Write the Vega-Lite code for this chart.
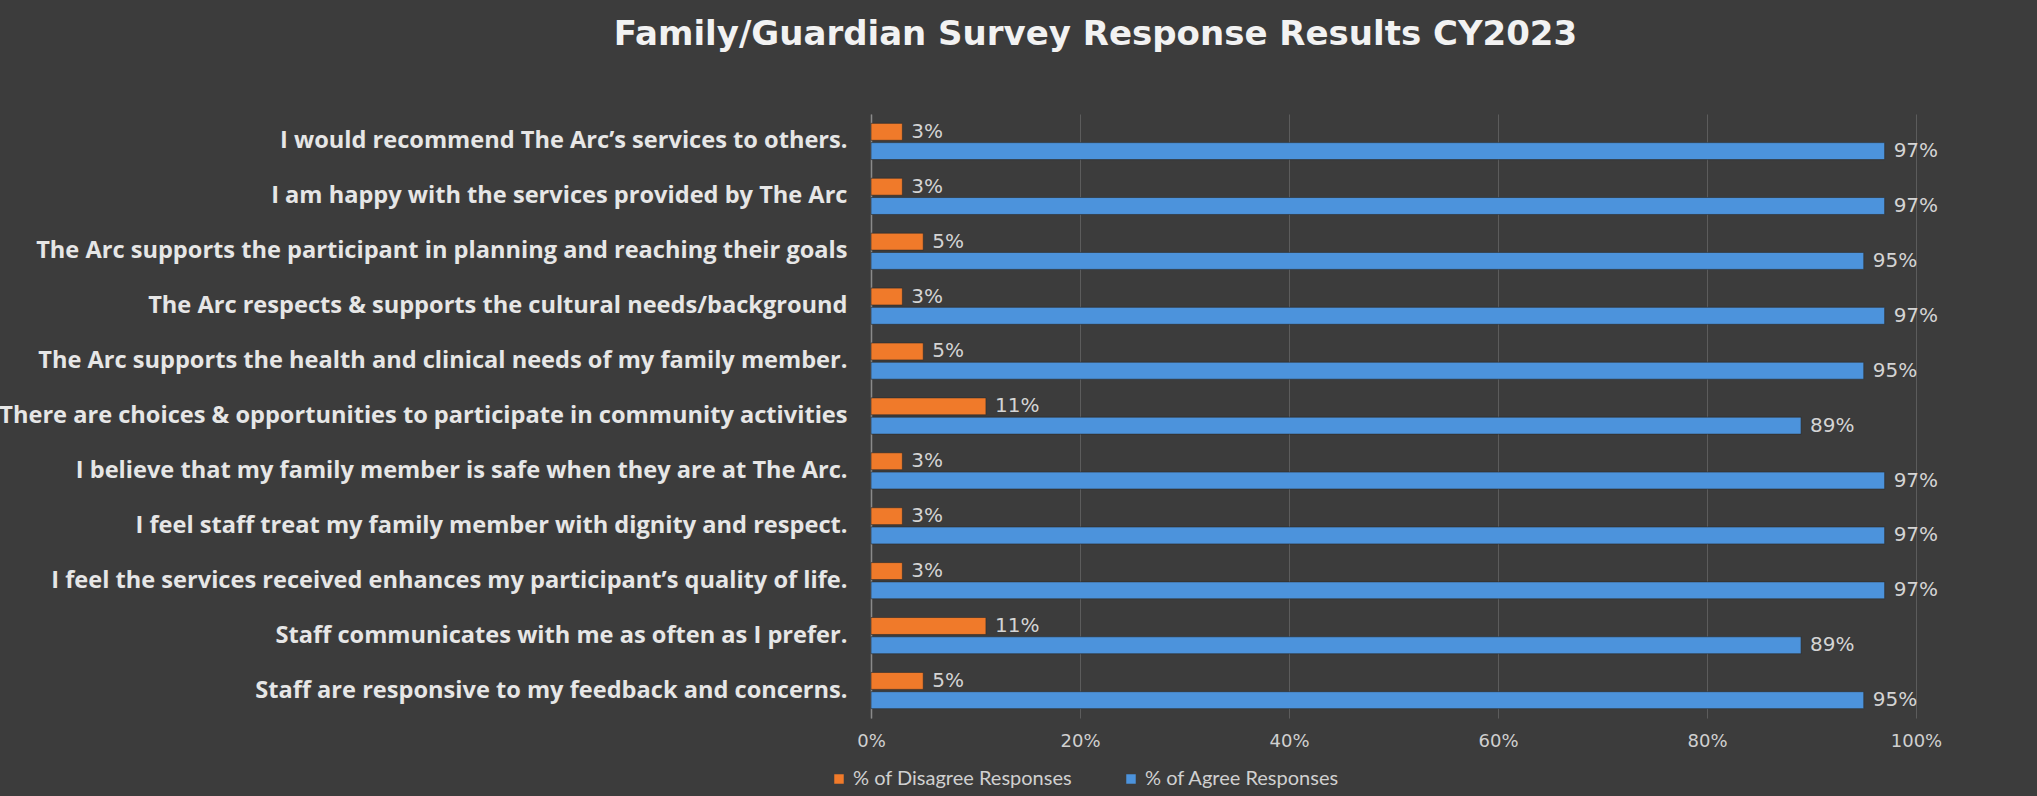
{
  "$schema": "https://vega.github.io/schema/vega-lite/v6.json",
  "width": 1045,
  "height": 604,
  "autosize": {"type": "none"},
  "padding": {"left": 871, "top": 114, "right": 121, "bottom": 78},
  "background": "#3c3c3c",
  "title": {
    "text": "Family/Guardian Survey Response Results CY2023",
    "anchor": "middle",
    "dx": -298,
    "offset": 62,
    "font": "DejaVu Sans",
    "fontSize": 34,
    "fontWeight": "bold",
    "color": "#f2f2f2"
  },
  "config": {
    "view": {"stroke": null},
    "font": "Lato"
  },
  "data": {
    "values": [
      {"q": "I would recommend The Arc’s services to others.", "series": "% of Disagree Responses", "value": 0.03},
      {"q": "I would recommend The Arc’s services to others.", "series": "% of Agree Responses", "value": 0.97},
      {"q": "I am happy with the services provided by The Arc", "series": "% of Disagree Responses", "value": 0.03},
      {"q": "I am happy with the services provided by The Arc", "series": "% of Agree Responses", "value": 0.97},
      {"q": "The Arc supports the participant in planning and reaching their goals", "series": "% of Disagree Responses", "value": 0.05},
      {"q": "The Arc supports the participant in planning and reaching their goals", "series": "% of Agree Responses", "value": 0.95},
      {"q": "The Arc respects & supports the cultural needs/background", "series": "% of Disagree Responses", "value": 0.03},
      {"q": "The Arc respects & supports the cultural needs/background", "series": "% of Agree Responses", "value": 0.97},
      {"q": "The Arc supports the health and clinical needs of my family member.", "series": "% of Disagree Responses", "value": 0.05},
      {"q": "The Arc supports the health and clinical needs of my family member.", "series": "% of Agree Responses", "value": 0.95},
      {"q": "There are choices & opportunities to participate in community activities", "series": "% of Disagree Responses", "value": 0.11},
      {"q": "There are choices & opportunities to participate in community activities", "series": "% of Agree Responses", "value": 0.89},
      {"q": "I believe that my family member is safe when they are at The Arc.", "series": "% of Disagree Responses", "value": 0.03},
      {"q": "I believe that my family member is safe when they are at The Arc.", "series": "% of Agree Responses", "value": 0.97},
      {"q": "I feel staff treat my family member with dignity and respect.", "series": "% of Disagree Responses", "value": 0.03},
      {"q": "I feel staff treat my family member with dignity and respect.", "series": "% of Agree Responses", "value": 0.97},
      {"q": "I feel the services received enhances my participant’s quality of life.", "series": "% of Disagree Responses", "value": 0.03},
      {"q": "I feel the services received enhances my participant’s quality of life.", "series": "% of Agree Responses", "value": 0.97},
      {"q": "Staff communicates with me as often as I prefer.", "series": "% of Disagree Responses", "value": 0.11},
      {"q": "Staff communicates with me as often as I prefer.", "series": "% of Agree Responses", "value": 0.89},
      {"q": "Staff are responsive to my feedback and concerns.", "series": "% of Disagree Responses", "value": 0.05},
      {"q": "Staff are responsive to my feedback and concerns.", "series": "% of Agree Responses", "value": 0.95}
    ]
  },
  "encoding": {
    "y": {
      "field": "q",
      "type": "nominal",
      "sort": null,
      "scale": {"paddingInner": 0.34, "paddingOuter": 0.17},
      "axis": {
        "title": null,
        "ticks": false,
        "domain": true,
        "domainColor": "#8a8a8a",
        "domainWidth": 1.5,
        "labelPadding": 24,
        "labelFont": "Open Sans",
        "labelFontWeight": "bold",
        "labelFontSize": 23.6,
        "labelColor": "#e6e6e6",
        "labelLimit": 1000
      }
    },
    "yOffset": {
      "field": "series",
      "type": "nominal",
      "sort": ["% of Disagree Responses", "% of Agree Responses"],
      "scale": {"paddingInner": 0.12}
    },
    "x": {
      "field": "value",
      "type": "quantitative",
      "scale": {"domain": [0, 1]},
      "axis": {
        "title": null,
        "format": ".0%",
        "values": [0, 0.2, 0.4, 0.6, 0.8, 1],
        "ticks": false,
        "domain": false,
        "grid": true,
        "gridColor": "#5c5c5c",
        "gridWidth": 1,
        "labelFlush": false,
        "labelPadding": 14,
        "labelFont": "DejaVu Sans",
        "labelFontSize": 18,
        "labelColor": "#d0d0d0"
      }
    }
  },
  "layer": [
    {
      "mark": {"type": "bar", "stroke": "#2b2b2b", "strokeWidth": 1, "strokeOpacity": 0.6},
      "encoding": {
        "color": {
          "field": "series",
          "type": "nominal",
          "scale": {
            "domain": ["% of Disagree Responses", "% of Agree Responses"],
            "range": ["#F07A2A", "#4C93DC"]
          },
          "legend": {
            "title": null,
            "orient": "none",
            "legendX": -42,
            "legendY": 655,
            "direction": "horizontal",
            "symbolType": "square",
            "symbolSize": 90,
            "symbolStrokeWidth": 0,
            "labelFont": "Lato",
            "labelFontSize": 20,
            "labelLimit": 600,
            "labelColor": "#d0d0d0",
            "columnPadding": 48,
            "labelOffset": 4
          }
        }
      }
    },
    {
      "mark": {"type": "text", "align": "left", "baseline": "middle", "dx": 9, "font": "DejaVu Sans", "fontSize": 20, "color": "#d4d4d4"},
      "encoding": {
        "text": {"field": "value", "type": "quantitative", "format": ".0%"}
      }
    }
  ]
}
